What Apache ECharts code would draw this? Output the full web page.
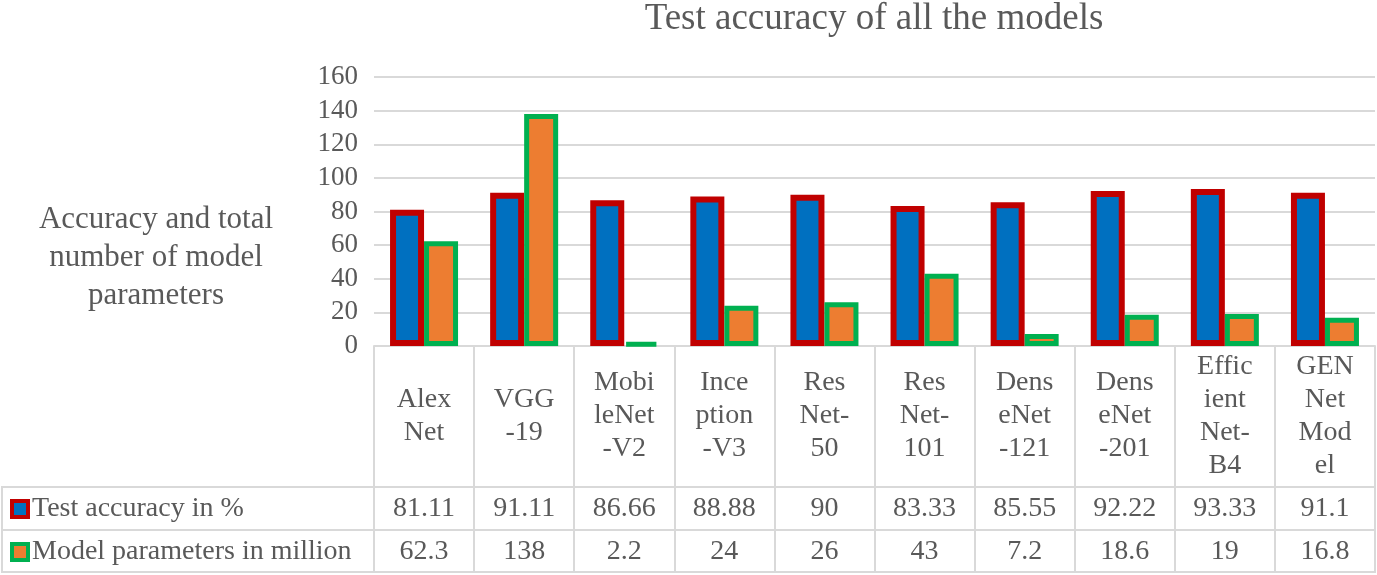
<!DOCTYPE html>
<html>
<head>
<meta charset="utf-8">
<script src="https://cdn.jsdelivr.net/npm/echarts@6/dist/echarts.min.js"></script>
<style>
html,body{margin:0;padding:0;background:#fff;}
#c{width:1377px;height:575px;}
</style>
</head>
<body>
<div id="c"></div>
<script>
// ---- data ----
var categoryLabels = ['Alex\nNet', 'VGG\n-19', 'Mobi\nleNet\n-V2', 'Ince\nption\n-V3', 'Res\nNet-\n50', 'Res\nNet-\n101', 'Dens\neNet\n-121', 'Dens\neNet\n-201', 'Effic\nient\nNet-\nB4', 'GEN\nNet\nMod\nel'];
var accuracy = [81.11, 91.11, 86.66, 88.88, 90, 83.33, 85.55, 92.22, 93.33, 91.1];
var params = [62.3, 138, 2.2, 24, 26, 43, 7.2, 18.6, 19, 16.8];
var seriesNames = ['Test accuracy in %', 'Model parameters in million'];
var yTicks = {min: 0, max: 160, interval: 20};

var FONT = 'Liberation Serif';
var TXT = '#595959';
var GRID_LINE = '#d9d9d9';

var chart = echarts.init(document.getElementById('c'));

function tableAxis(offset, tickLen, labels, labelMargin, fontSize, lh) {
  return {
    type: 'category',
    position: 'bottom',
    offset: offset,
    data: categoryLabels,
    gridIndex: 0,
    axisLine: {show: true, lineStyle: {color: GRID_LINE, width: 2}},
    axisTick: {show: tickLen > 0, length: tickLen, lineStyle: {color: GRID_LINE, width: 2}},
    axisLabel: {
      show: !!labels,
      interval: 0,
      margin: labelMargin,
      verticalAlign: 'middle',
      fontFamily: FONT,
      fontSize: fontSize,
      lineHeight: lh,
      color: TXT,
      formatter: labels ? function (v, i) { return labels === true ? v : String(labels[i]); } : undefined
    },
    splitLine: {show: false}
  };
}

var option = {
  animation: false,
  backgroundColor: '#fff',
  textStyle: {fontFamily: FONT},
  title: [
    {
      text: 'Test accuracy of all the models',
      left: 874, top: -1, textAlign: 'center', padding: 0,
      textStyle: {fontFamily: FONT, fontSize: 37, fontWeight: 'normal', color: TXT, lineHeight: 40}
    },
    {
      text: 'Accuracy and total\nnumber of model\nparameters',
      left: 156, top: 201, textAlign: 'center', padding: 0,
      textStyle: {fontFamily: FONT, fontSize: 31, fontWeight: 'normal', color: TXT, lineHeight: 38, align: 'center'}
    }
  ],
  legend: {
    orient: 'vertical',
    left: 10, top: 495,
    padding: 0,
    itemWidth: 16, itemHeight: 16,
    itemGap: 15,
    icon: 'rect',
    selectedMode: false,
    itemStyle: {borderWidth: 4},
    textStyle: {fontFamily: FONT, fontSize: 28, color: TXT, lineHeight: 28, padding: [0,0,0,-1]},
    data: seriesNames
  },
  grid: {left: 374, right: 2, top: 77, bottom: 229, containLabel: false},
  xAxis: [
    tableAxis(0, 141, true, 70, 28, 33),
    tableAxis(141, 43, accuracy, 22, 28, 30),
    tableAxis(184, 42, params, 22, 28, 30)
  ],
  yAxis: {
    type: 'value',
    min: yTicks.min, max: yTicks.max, interval: yTicks.interval,
    axisLine: {show: false},
    axisTick: {show: false},
    axisLabel: {fontFamily: FONT, fontSize: 27, color: TXT, margin: 16},
    splitLine: {lineStyle: {color: GRID_LINE, width: 2}}
  },
  graphic: [
    {type: 'line', shape: {x1: 2, y1: 487, x2: 375, y2: 487}, style: {stroke: GRID_LINE, lineWidth: 2}, silent: true},
    {type: 'line', shape: {x1: 2, y1: 530, x2: 375, y2: 530}, style: {stroke: GRID_LINE, lineWidth: 2}, silent: true},
    {type: 'line', shape: {x1: 2, y1: 572, x2: 1376, y2: 572}, style: {stroke: GRID_LINE, lineWidth: 2}, silent: true},
    {type: 'line', shape: {x1: 2, y1: 486, x2: 2, y2: 573}, style: {stroke: GRID_LINE, lineWidth: 2}, silent: true}
  ],
  series: [
    {
      name: seriesNames[0],
      type: 'bar',
      data: accuracy,
      barWidth: 34,
      barGap: '0%',
      itemStyle: {color: '#0070c0', borderColor: '#c00000', borderWidth: 6}
    },
    {
      name: seriesNames[1],
      type: 'bar',
      data: params,
      barWidth: 34,
      barGap: '0%',
      itemStyle: {color: '#ed7d31', borderColor: '#00b050', borderWidth: 5}
    }
  ]
};
chart.setOption(option);
</script>
</body>
</html>
